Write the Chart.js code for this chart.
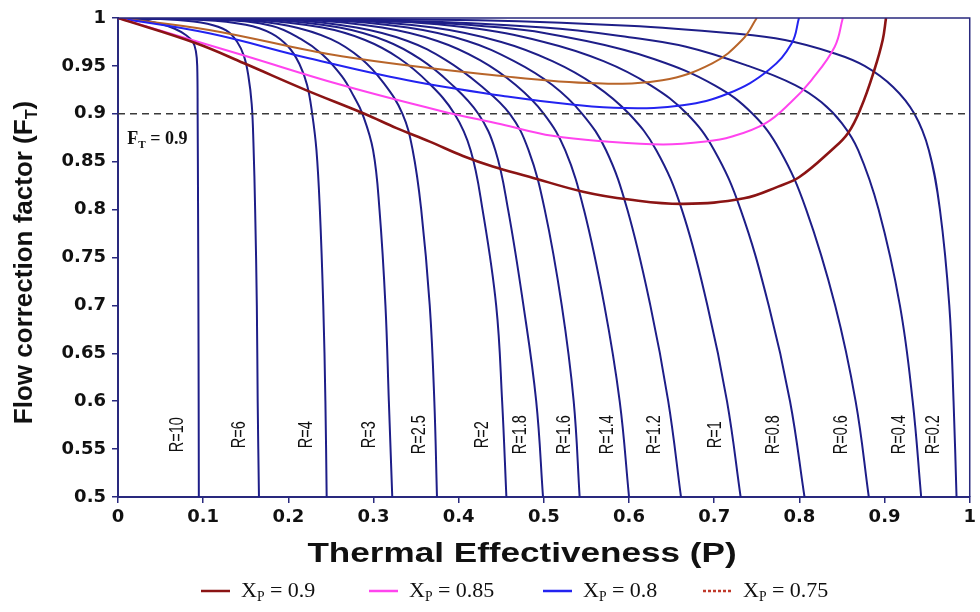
<!DOCTYPE html>
<html>
<head>
<meta charset="utf-8">
<title>Flow correction factor chart</title>
<script src="https://cdn.jsdelivr.net/npm/chart.js@4.4.1/dist/chart.umd.min.js"></script>
<style>
  html, body { margin: 0; padding: 0; background: #fff; }
  #wrap { width: 980px; height: 612px; }
</style>
</head>
<body>
<div id="wrap"><canvas id="ftChart" width="980" height="612"></canvas></div>
<script>
// Axis ticks
const xTickValues = [0, 0.1, 0.2, 0.3, 0.4, 0.5, 0.6, 0.7, 0.8, 0.9, 1];
const xTickLabels = ['0', '0.1', '0.2', '0.3', '0.4', '0.5', '0.6', '0.7', '0.8', '0.9', '1'];
const yTickValues = [0.5, 0.55, 0.6, 0.65, 0.7, 0.75, 0.8, 0.85, 0.9, 0.95, 1];
const yTickLabels = ['0.5', '0.55', '0.6', '0.65', '0.7', '0.75', '0.8', '0.85', '0.9', '0.95', '1'];

// R curves, [P, FT] pairs
const curveR10 = [[0, 1], [0.03, 0.998], [0.049, 0.994], [0.066, 0.989], [0.08, 0.982], [0.088, 0.975], [0.0915, 0.965], [0.093, 0.95], [0.0935, 0.9], [0.094, 0.8], [0.0944, 0.7], [0.0947, 0.6], [0.0949, 0.5]];
const curveR6 = [[0, 1], [0.07, 0.998], [0.105, 0.994], [0.127, 0.987], [0.14, 0.975], [0.148, 0.96], [0.153, 0.94], [0.157, 0.91], [0.159, 0.87], [0.161, 0.8], [0.163, 0.7], [0.164, 0.6], [0.1655, 0.5]];
const curveR4 = [[0, 1], [0.1, 0.998], [0.15, 0.993], [0.18, 0.984], [0.2, 0.97], [0.213, 0.952], [0.222, 0.93], [0.228, 0.9], [0.233, 0.862], [0.237, 0.8], [0.241, 0.7], [0.2435, 0.6], [0.245, 0.5]];
const curveR3 = [[0, 1], [0.12, 0.998], [0.18, 0.992], [0.215, 0.978], [0.24, 0.962], [0.263, 0.939], [0.277, 0.918], [0.287, 0.9], [0.2995, 0.862], [0.307, 0.8], [0.314, 0.7], [0.318, 0.6], [0.322, 0.5]];
const curveR25 = [[0, 1], [0.14, 0.998], [0.2, 0.992], [0.25, 0.978], [0.285, 0.958], [0.312, 0.932], [0.334, 0.9], [0.346, 0.862], [0.356, 0.8], [0.366, 0.7], [0.3714, 0.6], [0.3745, 0.5]];
const curveR2 = [[0, 1], [0.16, 0.998], [0.24, 0.99], [0.29, 0.977], [0.33, 0.958], [0.365, 0.932], [0.395, 0.9], [0.414, 0.862], [0.428, 0.8], [0.444, 0.7], [0.451, 0.6], [0.456, 0.5]];
const curveR18 = [[0, 1], [0.18, 0.998], [0.26, 0.99], [0.315, 0.976], [0.355, 0.957], [0.39, 0.932], [0.423, 0.9], [0.443, 0.862], [0.458, 0.8], [0.476, 0.7], [0.491, 0.6], [0.499, 0.5]];
const curveR16 = [[0, 1], [0.2, 0.998], [0.28, 0.99], [0.34, 0.976], [0.385, 0.956], [0.425, 0.93], [0.46, 0.9], [0.482, 0.862], [0.501, 0.8], [0.521, 0.7], [0.535, 0.6], [0.542, 0.5]];
const curveR14 = [[0, 1], [0.22, 0.998], [0.31, 0.99], [0.375, 0.976], [0.425, 0.956], [0.467, 0.93], [0.5, 0.9], [0.525, 0.862], [0.547, 0.8], [0.571, 0.7], [0.589, 0.6], [0.6, 0.5]];
const curveR12 = [[0, 1], [0.24, 0.998], [0.34, 0.99], [0.41, 0.976], [0.465, 0.955], [0.51, 0.93], [0.545, 0.9], [0.573, 0.862], [0.598, 0.8], [0.625, 0.7], [0.646, 0.6], [0.661, 0.5]];
const curveR1 = [[0, 1], [0.26, 0.998], [0.37, 0.99], [0.45, 0.975], [0.51, 0.955], [0.56, 0.93], [0.6, 0.9], [0.632, 0.862], [0.662, 0.8], [0.692, 0.7], [0.715, 0.6], [0.731, 0.5]];
const curveR08 = [[0, 1], [0.28, 0.998], [0.41, 0.99], [0.5, 0.975], [0.57, 0.955], [0.625, 0.93], [0.668, 0.9], [0.7, 0.862], [0.731, 0.8], [0.764, 0.7], [0.789, 0.6], [0.806, 0.5]];
const curveR06 = [[0, 1], [0.3, 0.997], [0.45, 0.99], [0.55, 0.976], [0.63, 0.957], [0.7, 0.93], [0.745, 0.9], [0.777, 0.862], [0.808, 0.8], [0.842, 0.7], [0.866, 0.6], [0.8815, 0.5]];
const curveR04 = [[0, 1], [0.33, 0.997], [0.5, 0.99], [0.6, 0.98], [0.667, 0.97], [0.74, 0.95], [0.795, 0.93], [0.826, 0.912], [0.85, 0.89], [0.869, 0.862], [0.893, 0.8], [0.918, 0.7], [0.933, 0.6], [0.943, 0.5]];
const curveR02 = [[0, 1], [0.4, 0.998], [0.6, 0.992], [0.72, 0.984], [0.783, 0.977], [0.8415, 0.963], [0.8765, 0.95], [0.91, 0.928], [0.935, 0.9], [0.952, 0.862], [0.965, 0.8], [0.976, 0.7], [0.981, 0.6], [0.9845, 0.5]];

// XP curves
const curveXp90 = [[0, 1], [0.0917, 0.9736], [0.148, 0.9527], [0.22, 0.925], [0.29, 0.8998], [0.327, 0.885], [0.366, 0.871], [0.405, 0.856], [0.44, 0.845], [0.4828, 0.8343], [0.546, 0.8187], [0.6, 0.8105], [0.664, 0.806], [0.735, 0.8118], [0.775, 0.824], [0.8, 0.834], [0.8376, 0.862], [0.857, 0.8797], [0.8726, 0.907], [0.888, 0.9457], [0.8978, 0.977], [0.9017, 1]];
const curveXp85 = [[0, 1], [0.146, 0.9614], [0.2626, 0.93], [0.379, 0.903], [0.45, 0.889], [0.51, 0.877], [0.573, 0.871], [0.64, 0.868], [0.69, 0.871], [0.72, 0.876], [0.76, 0.89], [0.79, 0.912], [0.814, 0.935], [0.8415, 0.97], [0.851, 1]];
const curveXp80 = [[0, 1], [0.107, 0.984], [0.224, 0.958], [0.34, 0.935], [0.457, 0.918], [0.53, 0.91], [0.593, 0.906], [0.663, 0.909], [0.717, 0.9214], [0.764, 0.9457], [0.791, 0.9736], [0.7995, 1]];
const curveXp75 = [[0, 1], [0.107, 0.9875], [0.2626, 0.96], [0.457, 0.9388], [0.5618, 0.9318], [0.639, 0.935], [0.6977, 0.9527], [0.7327, 0.977], [0.75, 1]];
const ftLimit = [[0, 0.9], [1, 0.9]];

const rCurves = [curveR10, curveR6, curveR4, curveR3, curveR25, curveR2, curveR18, curveR16, curveR14, curveR12, curveR1, curveR08, curveR06, curveR04, curveR02];
const rLabels = ['R=10', 'R=6', 'R=4', 'R=3', 'R=2.5', 'R=2', 'R=1.8', 'R=1.6', 'R=1.4', 'R=1.2', 'R=1', 'R=0.8', 'R=0.6', 'R=0.4', 'R=0.2'];
const rLabelP = [0.0703, 0.1422, 0.2219, 0.2957, 0.3538, 0.4277, 0.4724, 0.5248, 0.5754, 0.6297, 0.7016, 0.7696, 0.8493, 0.9172, 0.958];
const rLabelF = 0.565;

const xpValues = ['0.9', '0.85', '0.8', '0.75'];

// Styles
const axisColor = '#29297e';
const rColor = '#1e1e88';
const xpColors = ['#8b1414', '#ff44ee', '#2323f0', '#b8652a'];
const legendColors = ['#8b1414', '#ff44ee', '#2323f0', '#c0392b'];
const legendDash = [[], [], [], [3, 2]];
const legendLineX = [201, 369, 543, 703];

const toPoints = arr => arr.map(p => ({ x: p[0], y: p[1] }));

// Rich text with subscript parts
function drawRich(ctx, parts, x, y, size, family, weight, measureOnly) {
  let cx = x;
  parts.forEach(p => {
    const s = p.sub ? size * 0.62 : size;
    ctx.font = `${weight} ${s}px ${family}`;
    if (!measureOnly) ctx.fillText(p.t, cx, p.sub ? y + size * 0.2 : y);
    cx += ctx.measureText(p.t).width;
  });
  return cx - x;
}

const decorPlugin = {
  id: 'ftDecor',
  afterDraw(chart) {
    const { ctx, chartArea: a, scales: { x, y } } = chart;
    ctx.save();

    // frame top and right
    ctx.strokeStyle = axisColor;
    ctx.lineWidth = 1.5;
    ctx.beginPath();
    ctx.moveTo(a.left, a.top);
    ctx.lineTo(a.right, a.top);
    ctx.lineTo(a.right, a.bottom);
    ctx.stroke();

    // R labels
    ctx.fillStyle = '#111';
    ctx.textAlign = 'center';
    ctx.textBaseline = 'middle';
    ctx.font = '14.5px "Liberation Sans", Arial, sans-serif';
    rLabels.forEach((txt, i) => {
      ctx.save();
      ctx.translate(x.getPixelForValue(rLabelP[i]), y.getPixelForValue(rLabelF));
      ctx.scale(1.35, 1);
      ctx.rotate(-Math.PI / 2);
      ctx.fillText(txt, 0, 0);
      ctx.restore();
    });

    // FT = 0.9 label
    ctx.textAlign = 'left';
    ctx.textBaseline = 'alphabetic';
    ctx.fillStyle = '#111';
    const serif = '"Liberation Serif", "Times New Roman", serif';
    drawRich(ctx, [{ t: 'F' }, { t: 'T', sub: true }, { t: ' = 0.9' }],
      x.getPixelForValue(0.011), y.getPixelForValue(0.868), 18, serif, 'bold');

    // x title
    ctx.save();
    ctx.translate(522, 562);
    ctx.scale(1.3, 1);
    ctx.textAlign = 'center';
    ctx.font = 'bold 27px "Liberation Sans", Arial, sans-serif';
    ctx.fillText('Thermal Effectiveness (P)', 0, 0);
    ctx.restore();

    // y title
    const sans = '"Liberation Sans", Arial, sans-serif';
    const yParts = [{ t: 'Flow correction factor (F' }, { t: 'T', sub: true }, { t: ')' }];
    ctx.save();
    ctx.translate(32, (a.top + a.bottom) / 2 + 5);
    ctx.rotate(-Math.PI / 2);
    const w = drawRich(ctx, yParts, 0, 0, 26, sans, 'bold', true);
    drawRich(ctx, yParts, -w / 2, 0, 26, sans, 'bold');
    ctx.restore();

    // legend
    const legY = 597;
    xpValues.forEach((v, i) => {
      const lx = legendLineX[i];
      ctx.strokeStyle = legendColors[i];
      ctx.lineWidth = 2.5;
      ctx.setLineDash(legendDash[i]);
      ctx.beginPath();
      ctx.moveTo(lx, legY - 6);
      ctx.lineTo(lx + 29, legY - 6);
      ctx.stroke();
      ctx.setLineDash([]);
      ctx.fillStyle = '#111';
      drawRich(ctx, [{ t: 'X' }, { t: 'P', sub: true }, { t: ' = ' + v }], lx + 40, legY, 22, serif, 'normal');
    });

    ctx.restore();
  }
};

const datasets = [];
[curveXp90, curveXp85, curveXp80, curveXp75].forEach((c, i) => {
  datasets.push({
    label: 'XP = ' + xpValues[i],
    data: toPoints(c),
    borderColor: xpColors[i],
    borderWidth: i === 0 ? 2.6 : 2
  });
});
datasets.push({
  label: 'FT = 0.9',
  data: toPoints(ftLimit),
  borderColor: '#3a3a3a',
  borderWidth: 1.6,
  borderDash: [7, 5],
  tension: 0
});
rCurves.forEach((c, i) => {
  datasets.push({
    label: rLabels[i],
    data: toPoints(c),
    borderColor: rColor,
    borderWidth: 2
  });
});

const tickFont = { family: '"DejaVu Sans", sans-serif', size: 18, weight: 'bold' };

new Chart(document.getElementById('ftChart'), {
  type: 'scatter',
  data: { datasets },
  options: {
    responsive: false,
    animation: false,
    devicePixelRatio: 1,
    showLine: true,
    layout: { padding: { top: 18, right: 4, bottom: 0, left: 0 } },
    elements: {
      point: { radius: 0, hoverRadius: 0 },
      line: { fill: false, tension: 0.4 }
    },
    plugins: {
      legend: { display: false },
      tooltip: { enabled: false }
    },
    scales: {
      x: {
        type: 'linear',
        min: 0,
        max: 1,
        afterFit: axis => { axis.height = 115; },
        afterBuildTicks: axis => { axis.ticks = xTickValues.map(v => ({ value: v })); },
        ticks: {
          color: '#111',
          font: tickFont,
          padding: 4,
          maxRotation: 0,
          callback: (v, i) => xTickLabels[i]
        },
        grid: { display: true, drawOnChartArea: false, drawTicks: true, tickLength: 6, color: axisColor, lineWidth: 1.5 },
        border: { display: true, color: axisColor, width: 2 }
      },
      y: {
        type: 'linear',
        min: 0.5,
        max: 1,
        afterFit: axis => { axis.width = 118; },
        afterBuildTicks: axis => { axis.ticks = yTickValues.map(v => ({ value: v })); },
        ticks: {
          color: '#111',
          font: tickFont,
          padding: 6,
          callback: (v, i) => yTickLabels[i]
        },
        grid: { display: true, drawOnChartArea: false, drawTicks: true, tickLength: 6, color: axisColor, lineWidth: 1.5 },
        border: { display: true, color: axisColor, width: 2 }
      }
    }
  },
  plugins: [decorPlugin]
});
</script>
</body>
</html>
